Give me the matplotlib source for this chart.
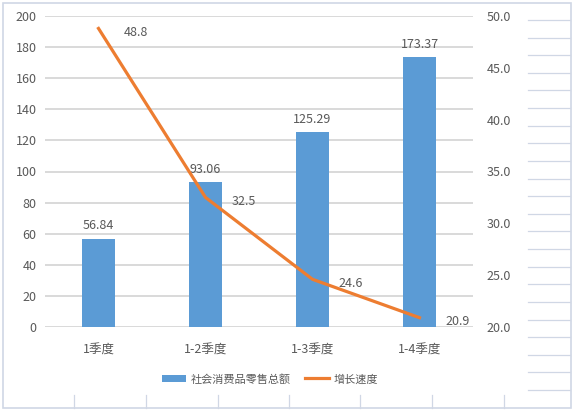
import numpy as np
import matplotlib.pyplot as plt
from matplotlib.lines import Line2D
from matplotlib.patches import Rectangle, Patch

plt.rcParams['font.family'] = ['Noto Sans CJK SC', 'DejaVu Sans']

# данные
quarters = ['1季度', '1-2季度', '1-3季度', '1-4季度']
retail_total = [56.84, 93.06, 125.29, 173.37]
growth_rate = [48.8, 32.5, 24.6, 20.9]

bar_color = '#5B9BD5'
line_color = '#ED7D31'
text_color = '#595959'
grid_color = '#D9D9D9'
cell_color = '#D0D7E5'

W, H = 574, 412
fig = plt.figure(figsize=(W / 100, H / 100), dpi=100)

# фон: рамка диаграммы и линии ячеек таблицы
fig.add_artist(Rectangle((3 / W, 4 / H), 568 / W, 405 / H, transform=fig.transFigure,
                         fill=False, edgecolor=cell_color, lw=1.2))
for yy in np.arange(20, 392, 17.62):
    fig.add_artist(Line2D([528 / W, 570 / W], [1 - yy / H, 1 - yy / H],
                          transform=fig.transFigure, color=cell_color, lw=0.9))
for xx in [74, 146, 218, 289, 360, 432, 504]:
    fig.add_artist(Line2D([xx / W, xx / W], [1 - 395 / H, 1 - 408 / H],
                          transform=fig.transFigure, color=cell_color, lw=0.9))

ax = fig.add_axes([45 / W, (H - 327) / H, 428 / W, 311 / H])
x = np.arange(len(quarters))
ax.bar(x, retail_total, width=0.31, color=bar_color, zorder=2)
ax.set_xlim(-0.5, 3.5)
ax.set_ylim(0, 200)
ax.set_yticks(np.arange(0, 201, 20))
ax.grid(axis='y', color=grid_color, lw=1.4, zorder=0)
ax.set_axisbelow(True)
for s in ax.spines.values():
    s.set_visible(False)
ax.tick_params(length=0, labelsize=9, colors=text_color, pad=6)
ax.tick_params(axis='x', pad=12)
ax.set_xticks(x)
ax.set_xticklabels(quarters)

for xi, v in zip(x, retail_total):
    ax.text(xi, v + 4, f'{v:.2f}', ha='center', va='bottom', fontsize=9, color=text_color)

ax2 = ax.twinx()
ax2.plot(x, growth_rate, color=line_color, lw=2.3, zorder=3)
ax2.set_ylim(20, 50)
ax2.set_yticks(np.arange(20, 51, 5))
ax2.set_yticklabels([f'{t:.1f}' for t in np.arange(20, 51, 5)])
for s in ax2.spines.values():
    s.set_visible(False)
ax2.tick_params(length=0, labelsize=9, colors=text_color, pad=10)

for xi, v in zip(x, growth_rate):
    ax2.text(xi + 0.24, v - 0.4, f'{v:.1f}', ha='left', va='center', fontsize=9, color=text_color)

handles = [Patch(facecolor=bar_color), Line2D([0], [0], color=line_color, lw=2.3)]
fig.legend(handles, ['社会消费品零售总额', '增长速度'], loc='center',
           bbox_to_anchor=(270 / W, 1 - 379 / H), ncol=2, frameon=False,
           fontsize=8, labelcolor=text_color, handlelength=2.2,
           handletextpad=0.4, columnspacing=1.3)

fig.savefig('out.png', dpi=100)
